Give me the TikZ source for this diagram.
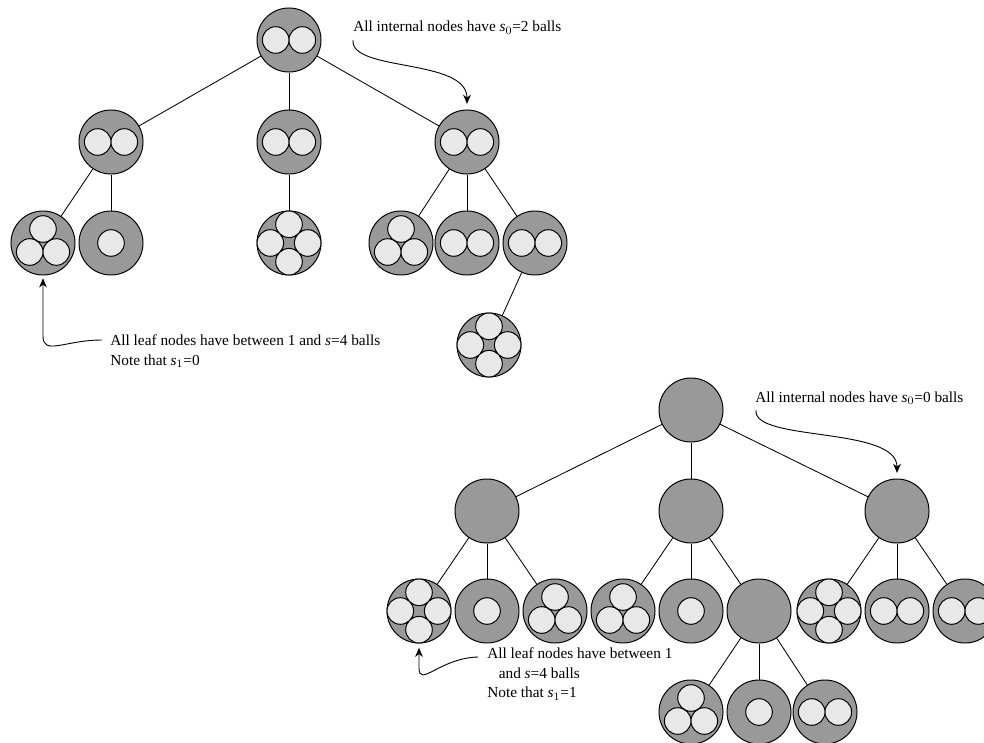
\documentclass[tikz,border=0pt]{standalone}
\usepackage{fontspec}
\setmainfont{Liberation Serif}
\usetikzlibrary{arrows.meta}
\definecolor{bingray}{HTML}{999999}
\definecolor{ballgray}{HTML}{E8E8E8}
\tikzset{
  bin/.style={circle,draw,fill=bingray,minimum size=1.6cm,inner sep=0pt,line width=.7pt},
  ball/.style={draw,fill=ballgray,line width=.7pt},
  link/.style={line width=.6pt},
  note/.style={inner sep=0pt,align=left,font=\fontsize{10.9}{14}\selectfont},
  arr/.style={-{Stealth[length=6.5pt,width=5.5pt,inset=2pt]},line width=.65pt}
}
\begin{document}
\begin{tikzpicture}[x=.025cm,y=-.025cm]
\useasboundingbox (0,0) rectangle (984,742);

\node[bin] (t0) at (289,40) {};
\node[bin] (t1) at (111,142) {};
\node[bin] (t2) at (289,142) {};
\node[bin] (t3) at (467,142) {};
\node[bin] (t11) at (43,243) {};
\node[bin] (t12) at (111,243) {};
\node[bin] (t21) at (289,243) {};
\node[bin] (t31) at (401,243) {};
\node[bin] (t32) at (467,243) {};
\node[bin] (t33) at (535,243) {};
\node[bin] (t331) at (489,345) {};

\draw[link] (t0) -- (t1);
\draw[link] (t0) -- (t2);
\draw[link] (t0) -- (t3);
\draw[link] (t1) -- (t11);
\draw[link] (t1) -- (t12);
\draw[link] (t2) -- (t21);
\draw[link] (t3) -- (t31);
\draw[link] (t3) -- (t32);
\draw[link] (t3) -- (t33);
\draw[link] (t33) -- (t331);

\draw[ball][shift={(t0)}] (-13.3,0) circle (13.3) (13.3,0) circle (13.3);
\draw[ball][shift={(t1)}] (-13.3,0) circle (13.3) (13.3,0) circle (13.3);
\draw[ball][shift={(t2)}] (-13.3,0) circle (13.3) (13.3,0) circle (13.3);
\draw[ball][shift={(t3)}] (-13.3,0) circle (13.3) (13.3,0) circle (13.3);
\draw[ball][shift={(t11)}] (0,-14) circle (13.3) (-13.3,9) circle (13.3) (13.3,9) circle (13.3);
\draw[ball][shift={(t12)}] (0,0) circle (13.3);
\draw[ball][shift={(t21)}] (0,-18.7) circle (13.3) (-18.7,0) circle (13.3) (18.7,0) circle (13.3) (0,18.7) circle (13.3);
\draw[ball][shift={(t31)}] (0,-14) circle (13.3) (-13.3,9) circle (13.3) (13.3,9) circle (13.3);
\draw[ball][shift={(t32)}] (-13.3,0) circle (13.3) (13.3,0) circle (13.3);
\draw[ball][shift={(t33)}] (-13.3,0) circle (13.3) (13.3,0) circle (13.3);
\draw[ball][shift={(t331)}] (0,-18.7) circle (13.3) (-18.7,0) circle (13.3) (18.7,0) circle (13.3) (0,18.7) circle (13.3);

\node[bin] (u0) at (691,410) {};
\node[bin] (u1) at (487,511) {};
\node[bin] (u2) at (691,511) {};
\node[bin] (u3) at (897,511) {};
\node[bin] (u11) at (419,611) {};
\node[bin] (u12) at (487,611) {};
\node[bin] (u13) at (555,611) {};
\node[bin] (u21) at (623,611) {};
\node[bin] (u22) at (691,611) {};
\node[bin] (u23) at (759,611) {};
\node[bin] (u31) at (829,611) {};
\node[bin] (u32) at (897,611) {};
\node[bin] (u33) at (965,611) {};
\node[bin] (u231) at (691,712) {};
\node[bin] (u232) at (759,712) {};
\node[bin] (u233) at (825,712) {};

\draw[link] (u0) -- (u1);
\draw[link] (u0) -- (u2);
\draw[link] (u0) -- (u3);
\draw[link] (u1) -- (u11);
\draw[link] (u1) -- (u12);
\draw[link] (u1) -- (u13);
\draw[link] (u2) -- (u21);
\draw[link] (u2) -- (u22);
\draw[link] (u2) -- (u23);
\draw[link] (u3) -- (u31);
\draw[link] (u3) -- (u32);
\draw[link] (u3) -- (u33);
\draw[link] (u23) -- (u231);
\draw[link] (u23) -- (u232);
\draw[link] (u23) -- (u233);

\draw[ball][shift={(u11)}] (0,-18.7) circle (13.3) (-18.7,0) circle (13.3) (18.7,0) circle (13.3) (0,18.7) circle (13.3);
\draw[ball][shift={(u12)}] (0,0) circle (13.3);
\draw[ball][shift={(u13)}] (0,-14) circle (13.3) (-13.3,9) circle (13.3) (13.3,9) circle (13.3);
\draw[ball][shift={(u21)}] (0,-14) circle (13.3) (-13.3,9) circle (13.3) (13.3,9) circle (13.3);
\draw[ball][shift={(u22)}] (0,0) circle (13.3);
\draw[ball][shift={(u31)}] (0,-18.7) circle (13.3) (-18.7,0) circle (13.3) (18.7,0) circle (13.3) (0,18.7) circle (13.3);
\draw[ball][shift={(u32)}] (-13.3,0) circle (13.3) (13.3,0) circle (13.3);
\draw[ball][shift={(u33)}] (-13.3,0) circle (13.3) (13.3,0) circle (13.3);
\draw[ball][shift={(u231)}] (0,-14) circle (13.3) (-13.3,9) circle (13.3) (13.3,9) circle (13.3);
\draw[ball][shift={(u232)}] (0,0) circle (13.3);
\draw[ball][shift={(u233)}] (-13.3,0) circle (13.3) (13.3,0) circle (13.3);

\node[note,anchor=base west] (n1) at (353,32) {All internal nodes have \textit{s}$_0$=2 balls};
\node[note,anchor=north west] (n2) at (110,334.5) {All leaf nodes have between 1 and \textit{s}=4 balls\\Note that \textit{s}$_1$=0};
\node[note,anchor=base west] (n3) at (755,402) {All internal nodes have \textit{s}$_0$=0 balls};
\node[note,anchor=north west] (n4) at (487,647.5) {All leaf nodes have between 1\\\hspace*{.75em}and \textit{s}=4 balls\\Note that \textit{s}$_1$=1};

\draw[arr,shorten >=4pt] ([shift={(0,8)}]n1.base west) .. controls (350,72) and (467,58) .. (t3.north);
\draw[arr,shorten >=2pt] ([shift={(-8,5.5)}]n2.north west) .. controls (65,340) and (43,356) .. (43,336) -- (t11.south);
\draw[arr,shorten >=4pt] ([shift={(1,8)}]n3.base west) .. controls (752,442) and (897,426) .. (u3.north);
\draw[arr,shorten >=3pt] ([shift={(-9,9.5)}]n4.north west) .. controls (440,658) and (419,688) .. (419,668) -- (u11.south);

\end{tikzpicture}
\end{document}
